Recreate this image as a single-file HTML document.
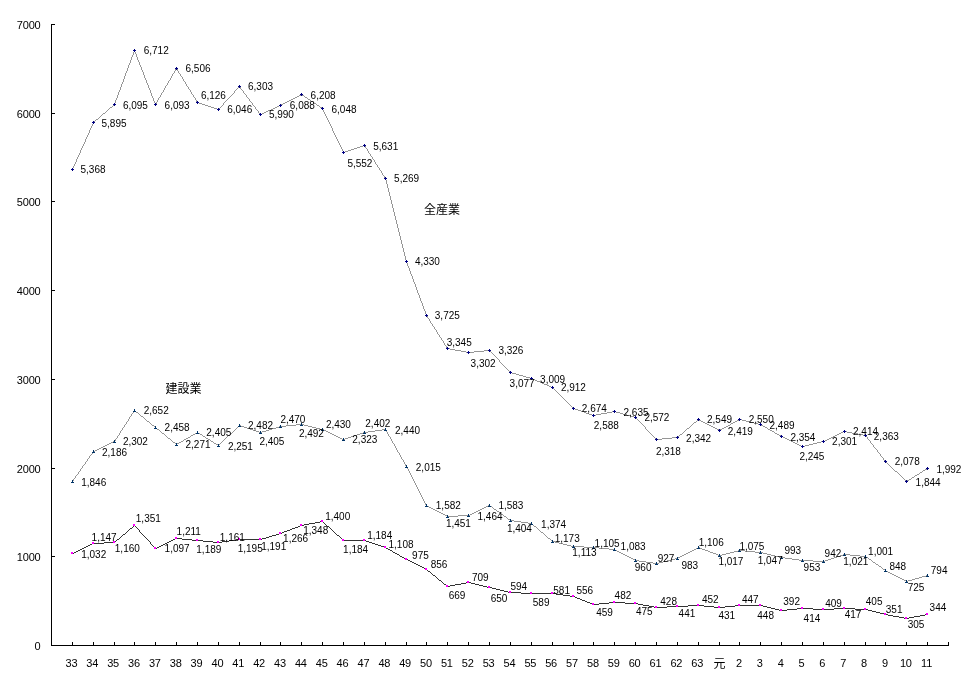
<!DOCTYPE html>
<html lang="ja"><head><meta charset="utf-8"><title>chart</title>
<style>
html,body{margin:0;padding:0;background:#fff;}
body{width:971px;height:687px;overflow:hidden;}
svg{display:block;}
text{font-family:"Liberation Sans","Noto Sans CJK JP",sans-serif;fill:#000;}
.ax{font-size:11px;letter-spacing:-0.2px;}
.dl{font-size:10px;}
.ttl{font-size:12px;}
</style></head><body>
<svg width="971" height="687" viewBox="0 0 971 687">
<rect width="971" height="687" fill="#fff"/>

<g stroke="#000" stroke-width="1" shape-rendering="crispEdges" fill="none">
<line x1="51.5" y1="24" x2="51.5" y2="646"/>
<line x1="51" y1="645.5" x2="949" y2="645.5"/>
<line x1="52" y1="645.5" x2="55" y2="645.5"/>
<line x1="52" y1="556.5" x2="55" y2="556.5"/>
<line x1="52" y1="468.5" x2="55" y2="468.5"/>
<line x1="52" y1="379.5" x2="55" y2="379.5"/>
<line x1="52" y1="290.5" x2="55" y2="290.5"/>
<line x1="52" y1="201.5" x2="55" y2="201.5"/>
<line x1="52" y1="113.5" x2="55" y2="113.5"/>
<line x1="52" y1="24.5" x2="55" y2="24.5"/>
<line x1="51.5" y1="642" x2="51.5" y2="645"/>
<line x1="72.5" y1="642" x2="72.5" y2="645"/>
<line x1="93.5" y1="642" x2="93.5" y2="645"/>
<line x1="114.5" y1="642" x2="114.5" y2="645"/>
<line x1="134.5" y1="642" x2="134.5" y2="645"/>
<line x1="155.5" y1="642" x2="155.5" y2="645"/>
<line x1="176.5" y1="642" x2="176.5" y2="645"/>
<line x1="197.5" y1="642" x2="197.5" y2="645"/>
<line x1="218.5" y1="642" x2="218.5" y2="645"/>
<line x1="239.5" y1="642" x2="239.5" y2="645"/>
<line x1="260.5" y1="642" x2="260.5" y2="645"/>
<line x1="280.5" y1="642" x2="280.5" y2="645"/>
<line x1="301.5" y1="642" x2="301.5" y2="645"/>
<line x1="322.5" y1="642" x2="322.5" y2="645"/>
<line x1="343.5" y1="642" x2="343.5" y2="645"/>
<line x1="364.5" y1="642" x2="364.5" y2="645"/>
<line x1="385.5" y1="642" x2="385.5" y2="645"/>
<line x1="406.5" y1="642" x2="406.5" y2="645"/>
<line x1="426.5" y1="642" x2="426.5" y2="645"/>
<line x1="447.5" y1="642" x2="447.5" y2="645"/>
<line x1="468.5" y1="642" x2="468.5" y2="645"/>
<line x1="489.5" y1="642" x2="489.5" y2="645"/>
<line x1="510.5" y1="642" x2="510.5" y2="645"/>
<line x1="531.5" y1="642" x2="531.5" y2="645"/>
<line x1="552.5" y1="642" x2="552.5" y2="645"/>
<line x1="573.5" y1="642" x2="573.5" y2="645"/>
<line x1="593.5" y1="642" x2="593.5" y2="645"/>
<line x1="614.5" y1="642" x2="614.5" y2="645"/>
<line x1="635.5" y1="642" x2="635.5" y2="645"/>
<line x1="656.5" y1="642" x2="656.5" y2="645"/>
<line x1="677.5" y1="642" x2="677.5" y2="645"/>
<line x1="698.5" y1="642" x2="698.5" y2="645"/>
<line x1="719.5" y1="642" x2="719.5" y2="645"/>
<line x1="739.5" y1="642" x2="739.5" y2="645"/>
<line x1="760.5" y1="642" x2="760.5" y2="645"/>
<line x1="781.5" y1="642" x2="781.5" y2="645"/>
<line x1="802.5" y1="642" x2="802.5" y2="645"/>
<line x1="823.5" y1="642" x2="823.5" y2="645"/>
<line x1="844.5" y1="642" x2="844.5" y2="645"/>
<line x1="865.5" y1="642" x2="865.5" y2="645"/>
<line x1="885.5" y1="642" x2="885.5" y2="645"/>
<line x1="906.5" y1="642" x2="906.5" y2="645"/>
<line x1="927.5" y1="642" x2="927.5" y2="645"/>
<line x1="948.5" y1="642" x2="948.5" y2="645"/>
</g>
<g class="ax" text-anchor="end">
<text x="40.5" y="650.0">0</text>
<text x="40.5" y="561.3">1000</text>
<text x="40.5" y="472.6">2000</text>
<text x="40.5" y="383.9">3000</text>
<text x="40.5" y="295.1">4000</text>
<text x="40.5" y="206.4">5000</text>
<text x="40.5" y="117.7">6000</text>
<text x="40.5" y="29.0">7000</text>
</g>
<g class="ax" text-anchor="middle">
<text x="71.4" y="667">33</text>
<text x="92.2" y="667">34</text>
<text x="113.1" y="667">35</text>
<text x="133.9" y="667">36</text>
<text x="154.8" y="667">37</text>
<text x="175.7" y="667">38</text>
<text x="196.5" y="667">39</text>
<text x="217.4" y="667">40</text>
<text x="238.2" y="667">41</text>
<text x="259.1" y="667">42</text>
<text x="280.0" y="667">43</text>
<text x="300.8" y="667">44</text>
<text x="321.7" y="667">45</text>
<text x="342.5" y="667">46</text>
<text x="363.4" y="667">47</text>
<text x="384.3" y="667">48</text>
<text x="405.1" y="667">49</text>
<text x="426.0" y="667">50</text>
<text x="446.8" y="667">51</text>
<text x="467.7" y="667">52</text>
<text x="488.6" y="667">53</text>
<text x="509.4" y="667">54</text>
<text x="530.3" y="667">55</text>
<text x="551.1" y="667">56</text>
<text x="572.0" y="667">57</text>
<text x="592.9" y="667">58</text>
<text x="613.7" y="667">59</text>
<text x="634.6" y="667">60</text>
<text x="655.4" y="667">61</text>
<text x="676.3" y="667">62</text>
<text x="697.2" y="667">63</text>
<text x="719.4" y="667.6" style="font-size:12px">元</text>
<text x="738.9" y="667">2</text>
<text x="759.7" y="667">3</text>
<text x="780.6" y="667">4</text>
<text x="801.5" y="667">5</text>
<text x="822.3" y="667">6</text>
<text x="843.2" y="667">7</text>
<text x="864.0" y="667">8</text>
<text x="884.9" y="667">9</text>
<text x="905.8" y="667">10</text>
<text x="926.6" y="667">11</text>
</g>
<path d="M72 168h1v2h-1zM73 166h1v2h-1zM74 164h1v2h-1zM75 162h1v2h-1zM76 159h1v3h-1zM77 157h1v2h-1zM78 155h1v2h-1zM79 153h1v2h-1zM80 150h1v3h-1zM81 148h1v2h-1zM82 146h1v2h-1zM83 144h1v2h-1zM84 142h1v2h-1zM85 139h1v3h-1zM86 137h1v2h-1zM87 135h1v2h-1zM88 133h1v2h-1zM89 130h1v3h-1zM90 128h1v2h-1zM91 126h1v2h-1zM92 124h1v2h-1zM93 122h1v2h-1zM94 121h1v1h-1zM95 120h1v1h-1zM96 119h2v1h-2zM98 118h1v1h-1zM99 117h1v1h-1zM100 116h1v1h-1zM101 115h1v1h-1zM102 114h1v1h-1zM103 113h2v1h-2zM105 112h1v1h-1zM106 111h1v1h-1zM107 110h1v1h-1zM108 109h1v1h-1zM109 108h1v1h-1zM110 107h2v1h-2zM112 106h1v1h-1zM113 105h1v1h-1zM114 103h1v2h-1zM115 100h1v3h-1zM116 98h1v2h-1zM117 95h1v3h-1zM118 92h1v3h-1zM119 90h1v2h-1zM120 87h1v3h-1zM121 84h1v3h-1zM122 82h1v2h-1zM123 79h1v3h-1zM124 76h1v3h-1zM125 73h1v3h-1zM126 71h1v2h-1zM127 68h1v3h-1zM128 65h1v3h-1zM129 63h1v2h-1zM130 60h1v3h-1zM131 57h1v3h-1zM132 55h1v2h-1zM133 52h1v3h-1zM134 50h1v2h-1zM135 52h1v2h-1zM136 54h1v3h-1zM137 57h1v3h-1zM138 60h1v2h-1zM139 62h1v3h-1zM140 65h1v2h-1zM141 67h1v3h-1zM142 70h1v2h-1zM143 72h1v3h-1zM144 75h1v3h-1zM145 78h1v2h-1zM146 80h1v3h-1zM147 83h1v2h-1zM148 85h1v3h-1zM149 88h1v2h-1zM150 90h1v3h-1zM151 93h1v3h-1zM152 96h1v2h-1zM153 98h1v3h-1zM154 101h1v2h-1zM155 103h2v1h-2zM155 104h1v1h-1zM156 102h1v1h-1zM157 100h1v2h-1zM158 98h1v2h-1zM159 97h1v1h-1zM160 95h1v2h-1zM161 93h1v2h-1zM162 92h1v1h-1zM163 90h1v2h-1zM164 88h1v2h-1zM165 86h1v2h-1zM166 85h1v1h-1zM167 83h1v2h-1zM168 81h1v2h-1zM169 80h1v1h-1zM170 78h1v2h-1zM171 76h1v2h-1zM172 74h1v2h-1zM173 73h1v1h-1zM174 71h1v2h-1zM175 69h1v2h-1zM176 68h1v1h-1zM177 69h1v2h-1zM178 71h1v2h-1zM179 73h1v1h-1zM180 74h1v2h-1zM181 76h1v1h-1zM182 77h1v2h-1zM183 79h1v2h-1zM184 81h1v1h-1zM185 82h1v2h-1zM186 84h1v2h-1zM187 86h1v1h-1zM188 87h1v2h-1zM189 89h1v1h-1zM190 90h1v2h-1zM191 92h1v2h-1zM192 94h1v1h-1zM193 95h1v2h-1zM194 97h1v1h-1zM195 98h1v2h-1zM196 100h1v2h-1zM197 102h2v1h-2zM199 103h3v1h-3zM202 104h3v1h-3zM205 105h3v1h-3zM208 106h3v1h-3zM211 107h3v1h-3zM214 108h3v1h-3zM217 109h2v1h-2zM219 108h1v1h-1zM220 107h1v1h-1zM221 106h1v1h-1zM222 105h1v1h-1zM223 103h1v2h-1zM224 102h1v1h-1zM225 101h1v1h-1zM226 100h1v1h-1zM227 99h1v1h-1zM228 98h1v1h-1zM229 97h1v1h-1zM230 96h1v1h-1zM231 95h1v1h-1zM232 94h1v1h-1zM233 93h1v1h-1zM234 91h1v2h-1zM235 90h1v1h-1zM236 89h1v1h-1zM237 88h1v1h-1zM238 87h1v1h-1zM239 86h1v1h-1zM240 87h1v2h-1zM241 89h1v1h-1zM242 90h1v1h-1zM243 91h1v2h-1zM244 93h1v1h-1zM245 94h1v1h-1zM246 95h1v2h-1zM247 97h1v1h-1zM248 98h1v1h-1zM249 99h1v2h-1zM250 101h1v1h-1zM251 102h1v1h-1zM252 103h1v2h-1zM253 105h1v1h-1zM254 106h1v1h-1zM255 107h1v2h-1zM256 109h1v1h-1zM257 110h1v1h-1zM258 111h1v2h-1zM259 113h1v1h-1zM260 114h2v1h-2zM262 113h2v1h-2zM264 112h2v1h-2zM266 111h2v1h-2zM268 110h3v1h-3zM271 109h2v1h-2zM273 108h2v1h-2zM275 107h2v1h-2zM277 106h2v1h-2zM279 105h2v1h-2zM281 104h2v1h-2zM283 103h2v1h-2zM285 102h2v1h-2zM287 101h2v1h-2zM289 100h2v1h-2zM291 99h2v1h-2zM293 98h2v1h-2zM295 97h2v1h-2zM297 96h2v1h-2zM299 95h2v1h-2zM301 94h1v1h-1zM302 95h2v1h-2zM304 96h1v1h-1zM305 97h2v1h-2zM307 98h1v1h-1zM308 99h2v1h-2zM310 100h1v1h-1zM311 101h2v1h-2zM313 102h1v1h-1zM314 103h2v1h-2zM316 104h1v1h-1zM317 105h2v1h-2zM319 106h1v1h-1zM320 107h2v1h-2zM322 108h1v2h-1zM323 110h1v2h-1zM324 112h1v2h-1zM325 114h1v2h-1zM326 116h1v2h-1zM327 118h1v2h-1zM328 120h1v2h-1zM329 122h1v2h-1zM330 124h1v2h-1zM331 126h1v2h-1zM332 128h1v3h-1zM333 131h1v2h-1zM334 133h1v2h-1zM335 135h1v2h-1zM336 137h1v2h-1zM337 139h1v2h-1zM338 141h1v2h-1zM339 143h1v2h-1zM340 145h1v2h-1zM341 147h1v2h-1zM342 149h1v2h-1zM343 151h1v1h-1zM343 152h2v1h-2zM345 151h3v1h-3zM348 150h3v1h-3zM351 149h3v1h-3zM354 148h3v1h-3zM357 147h3v1h-3zM360 146h3v1h-3zM363 145h2v1h-2zM365 146h1v2h-1zM366 148h1v1h-1zM367 149h1v2h-1zM368 151h1v2h-1zM369 153h1v1h-1zM370 154h1v2h-1zM371 156h1v1h-1zM372 157h1v2h-1zM373 159h1v1h-1zM374 160h1v2h-1zM375 162h1v2h-1zM376 164h1v1h-1zM377 165h1v2h-1zM378 167h1v1h-1zM379 168h1v2h-1zM380 170h1v1h-1zM381 171h1v2h-1zM382 173h1v2h-1zM383 175h1v1h-1zM384 176h1v2h-1zM385 178h1v2h-1zM386 180h1v4h-1zM387 184h1v4h-1zM388 188h1v4h-1zM389 192h1v4h-1zM390 196h1v4h-1zM391 200h1v4h-1zM392 204h1v4h-1zM393 208h1v4h-1zM394 212h1v4h-1zM395 216h1v4h-1zM396 220h1v4h-1zM397 224h1v4h-1zM398 228h1v4h-1zM399 232h1v4h-1zM400 236h1v4h-1zM401 240h1v4h-1zM402 244h1v4h-1zM403 248h1v4h-1zM404 252h1v4h-1zM405 256h1v4h-1zM406 260h1v3h-1zM407 263h1v3h-1zM408 266h1v2h-1zM409 268h1v3h-1zM410 271h1v3h-1zM411 274h1v2h-1zM412 276h1v3h-1zM413 279h1v3h-1zM414 282h1v2h-1zM415 284h1v3h-1zM416 287h1v3h-1zM417 290h1v3h-1zM418 293h1v2h-1zM419 295h1v3h-1zM420 298h1v3h-1zM421 301h1v2h-1zM422 303h1v3h-1zM423 306h1v3h-1zM424 309h1v2h-1zM425 311h1v3h-1zM426 314h1v2h-1zM427 316h1v2h-1zM428 318h1v1h-1zM429 319h1v2h-1zM430 321h1v2h-1zM431 323h1v1h-1zM432 324h1v2h-1zM433 326h1v1h-1zM434 327h1v2h-1zM435 329h1v1h-1zM436 330h1v2h-1zM437 332h1v2h-1zM438 334h1v1h-1zM439 335h1v2h-1zM440 337h1v1h-1zM441 338h1v2h-1zM442 340h1v1h-1zM443 341h1v2h-1zM444 343h1v2h-1zM445 345h1v1h-1zM446 346h1v2h-1zM447 348h3v1h-3zM450 349h5v1h-5zM455 350h6v1h-6zM461 351h5v1h-5zM466 352h8v1h-8zM474 351h10v1h-10zM484 350h6v1h-6zM490 351h1v1h-1zM491 352h1v1h-1zM492 353h1v1h-1zM493 354h1v1h-1zM494 355h1v1h-1zM495 356h1v1h-1zM496 357h1v1h-1zM497 358h1v1h-1zM498 359h1v1h-1zM499 360h1v2h-1zM500 362h1v1h-1zM501 363h1v1h-1zM502 364h1v1h-1zM503 365h1v1h-1zM504 366h1v1h-1zM505 367h1v1h-1zM506 368h1v1h-1zM507 369h1v1h-1zM508 370h1v1h-1zM509 371h1v1h-1zM510 372h2v1h-2zM512 373h4v1h-4zM516 374h3v1h-3zM519 375h4v1h-4zM523 376h3v1h-3zM526 377h4v1h-4zM530 378h3v1h-3zM533 379h2v1h-2zM535 380h2v1h-2zM537 381h3v1h-3zM540 382h2v1h-2zM542 383h2v1h-2zM544 384h3v1h-3zM547 385h2v1h-2zM549 386h2v1h-2zM551 387h2v1h-2zM553 388h1v1h-1zM554 389h1v1h-1zM555 390h1v1h-1zM556 391h1v1h-1zM557 392h1v1h-1zM558 393h1v1h-1zM559 394h1v1h-1zM560 395h1v1h-1zM561 396h1v1h-1zM562 397h1v1h-1zM563 398h1v1h-1zM564 399h1v1h-1zM565 400h1v1h-1zM566 401h1v1h-1zM567 402h1v1h-1zM568 403h1v1h-1zM569 404h1v1h-1zM570 405h1v1h-1zM571 406h1v1h-1zM572 407h1v1h-1zM573 408h2v1h-2zM575 409h3v1h-3zM578 410h3v1h-3zM581 411h3v1h-3zM584 412h2v1h-2zM586 413h3v1h-3zM589 414h3v1h-3zM592 415h4v1h-4zM596 414h5v1h-5zM601 413h6v1h-6zM607 412h5v1h-5zM612 411h4v1h-4zM616 412h4v1h-4zM620 413h3v1h-3zM623 414h4v1h-4zM627 415h3v1h-3zM630 416h4v1h-4zM634 417h2v1h-2zM636 418h1v1h-1zM637 419h1v1h-1zM638 420h1v1h-1zM639 421h1v1h-1zM640 422h1v1h-1zM641 423h1v1h-1zM642 424h1v1h-1zM643 425h1v1h-1zM644 426h1v1h-1zM645 427h1v2h-1zM646 429h1v1h-1zM647 430h1v1h-1zM648 431h1v1h-1zM649 432h1v1h-1zM650 433h1v1h-1zM651 434h1v1h-1zM652 435h1v1h-1zM653 436h1v1h-1zM654 437h1v1h-1zM655 438h1v1h-1zM656 439h6v1h-6zM662 438h10v1h-10zM672 437h6v1h-6zM678 436h1v1h-1zM679 435h1v1h-1zM680 434h2v1h-2zM682 433h1v1h-1zM683 432h1v1h-1zM684 431h1v1h-1zM685 430h1v1h-1zM686 429h1v1h-1zM687 428h2v1h-2zM689 427h1v1h-1zM690 426h1v1h-1zM691 425h1v1h-1zM692 424h1v1h-1zM693 423h1v1h-1zM694 422h2v1h-2zM696 421h1v1h-1zM697 420h1v1h-1zM698 419h1v1h-1zM699 420h2v1h-2zM701 421h2v1h-2zM703 422h2v1h-2zM705 423h2v1h-2zM707 424h2v1h-2zM709 425h2v1h-2zM711 426h2v1h-2zM713 427h2v1h-2zM715 428h2v1h-2zM717 429h2v1h-2zM719 430h1v1h-1zM720 429h2v1h-2zM722 428h2v1h-2zM724 427h2v1h-2zM726 426h2v1h-2zM728 425h2v1h-2zM730 424h1v1h-1zM731 423h2v1h-2zM733 422h2v1h-2zM735 421h2v1h-2zM737 420h2v1h-2zM739 419h3v1h-3zM742 420h4v1h-4zM746 421h4v1h-4zM750 422h4v1h-4zM754 423h4v1h-4zM758 424h3v1h-3zM761 425h2v1h-2zM763 426h2v1h-2zM765 427h2v1h-2zM767 428h1v1h-1zM768 429h2v1h-2zM770 430h2v1h-2zM772 431h2v1h-2zM774 432h1v1h-1zM775 433h2v1h-2zM777 434h2v1h-2zM779 435h2v1h-2zM781 436h2v1h-2zM783 437h2v1h-2zM785 438h2v1h-2zM787 439h2v1h-2zM789 440h2v1h-2zM791 441h2v1h-2zM793 442h2v1h-2zM795 443h2v1h-2zM797 444h2v1h-2zM799 445h2v1h-2zM801 446h4v1h-4zM805 445h4v1h-4zM809 444h4v1h-4zM813 443h4v1h-4zM817 442h4v1h-4zM821 441h4v1h-4zM825 440h2v1h-2zM827 439h2v1h-2zM829 438h2v1h-2zM831 437h2v1h-2zM833 436h2v1h-2zM835 435h2v1h-2zM837 434h2v1h-2zM839 433h2v1h-2zM841 432h2v1h-2zM843 431h4v1h-4zM847 432h5v1h-5zM852 433h6v1h-6zM858 434h5v1h-5zM863 435h3v1h-3zM866 436h1v1h-1zM867 437h1v2h-1zM868 439h1v1h-1zM869 440h1v1h-1zM870 441h1v2h-1zM871 443h1v1h-1zM872 444h1v1h-1zM873 445h1v2h-1zM874 447h1v1h-1zM875 448h1v1h-1zM876 449h1v1h-1zM877 450h1v2h-1zM878 452h1v1h-1zM879 453h1v1h-1zM880 454h1v2h-1zM881 456h1v1h-1zM882 457h1v1h-1zM883 458h1v2h-1zM884 460h1v1h-1zM885 461h1v1h-1zM886 462h1v1h-1zM887 463h1v1h-1zM888 464h1v1h-1zM889 465h1v1h-1zM890 466h1v1h-1zM891 467h1v1h-1zM892 468h1v1h-1zM893 469h1v1h-1zM894 470h1v1h-1zM895 471h2v1h-2zM897 472h1v1h-1zM898 473h1v1h-1zM899 474h1v1h-1zM900 475h1v1h-1zM901 476h1v1h-1zM902 477h1v1h-1zM903 478h1v1h-1zM904 479h1v1h-1zM905 480h1v1h-1zM906 481h1v1h-1zM907 480h2v1h-2zM909 479h2v1h-2zM911 478h1v1h-1zM912 477h2v1h-2zM914 476h1v1h-1zM915 475h2v1h-2zM917 474h2v1h-2zM919 473h1v1h-1zM920 472h2v1h-2zM922 471h1v1h-1zM923 470h2v1h-2zM925 469h2v1h-2zM927 468h1v1h-1z" fill="#969696" shape-rendering="crispEdges"/>
<path d="M72 481h1v1h-1zM73 479h1v2h-1zM74 478h1v1h-1zM75 476h1v2h-1zM76 475h1v1h-1zM77 474h1v1h-1zM78 472h1v2h-1zM79 471h1v1h-1zM80 469h1v2h-1zM81 468h1v1h-1zM82 466h1v2h-1zM83 465h1v1h-1zM84 464h1v1h-1zM85 462h1v2h-1zM86 461h1v1h-1zM87 459h1v2h-1zM88 458h1v1h-1zM89 456h1v2h-1zM90 455h1v1h-1zM91 454h1v1h-1zM92 452h1v2h-1zM93 451h2v1h-2zM95 450h2v1h-2zM97 449h2v1h-2zM99 448h2v1h-2zM101 447h2v1h-2zM103 446h2v1h-2zM105 445h2v1h-2zM107 444h2v1h-2zM109 443h2v1h-2zM111 442h2v1h-2zM113 441h2v1h-2zM115 439h1v2h-1zM116 438h1v1h-1zM117 436h1v2h-1zM118 435h1v1h-1zM119 433h1v2h-1zM120 431h1v2h-1zM121 430h1v1h-1zM122 428h1v2h-1zM123 427h1v1h-1zM124 425h1v2h-1zM125 424h1v1h-1zM126 422h1v2h-1zM127 421h1v1h-1zM128 419h1v2h-1zM129 417h1v2h-1zM130 416h1v1h-1zM131 414h1v2h-1zM132 413h1v1h-1zM133 411h1v2h-1zM134 410h1v1h-1zM135 411h1v1h-1zM136 412h2v1h-2zM138 413h1v1h-1zM139 414h1v1h-1zM140 415h1v1h-1zM141 416h2v1h-2zM143 417h1v1h-1zM144 418h1v1h-1zM145 419h1v1h-1zM146 420h1v1h-1zM147 421h2v1h-2zM149 422h1v1h-1zM150 423h1v1h-1zM151 424h1v1h-1zM152 425h2v1h-2zM154 426h1v1h-1zM155 427h1v1h-1zM156 428h1v1h-1zM157 429h2v1h-2zM159 430h1v1h-1zM160 431h1v1h-1zM161 432h1v1h-1zM162 433h2v1h-2zM164 434h1v1h-1zM165 435h1v1h-1zM166 436h1v1h-1zM167 437h1v1h-1zM168 438h2v1h-2zM170 439h1v1h-1zM171 440h1v1h-1zM172 441h1v1h-1zM173 442h2v1h-2zM175 443h1v1h-1zM176 444h1v1h-1zM177 443h2v1h-2zM179 442h2v1h-2zM181 441h2v1h-2zM183 440h1v1h-1zM184 439h2v1h-2zM186 438h2v1h-2zM188 437h2v1h-2zM190 436h1v1h-1zM191 435h2v1h-2zM193 434h2v1h-2zM195 433h2v1h-2zM197 432h1v1h-1zM198 433h2v1h-2zM200 434h2v1h-2zM202 435h1v1h-1zM203 436h2v1h-2zM205 437h1v1h-1zM206 438h2v1h-2zM208 439h2v1h-2zM210 440h1v1h-1zM211 441h2v1h-2zM213 442h1v1h-1zM214 443h2v1h-2zM216 444h2v1h-2zM218 445h1v1h-1zM219 444h1v1h-1zM220 443h1v1h-1zM221 442h1v1h-1zM222 441h1v1h-1zM223 440h1v1h-1zM224 439h1v1h-1zM225 438h1v1h-1zM226 437h1v1h-1zM227 436h1v1h-1zM228 435h2v1h-2zM230 434h1v1h-1zM231 433h1v1h-1zM232 432h1v1h-1zM233 431h1v1h-1zM234 430h1v1h-1zM235 429h1v1h-1zM236 428h1v1h-1zM237 427h1v1h-1zM238 426h1v1h-1zM239 425h2v1h-2zM241 426h3v1h-3zM244 427h3v1h-3zM247 428h3v1h-3zM250 429h3v1h-3zM253 430h3v1h-3zM256 431h3v1h-3zM259 432h3v1h-3zM262 431h4v1h-4zM266 430h3v1h-3zM269 429h3v1h-3zM272 428h4v1h-4zM276 427h3v1h-3zM279 426h7v1h-7zM286 425h10v1h-10zM296 424h8v1h-8zM304 425h4v1h-4zM308 426h4v1h-4zM312 427h4v1h-4zM316 428h4v1h-4zM320 429h4v1h-4zM324 430h2v1h-2zM326 431h2v1h-2zM328 432h2v1h-2zM330 433h2v1h-2zM332 434h2v1h-2zM334 435h2v1h-2zM336 436h2v1h-2zM338 437h2v1h-2zM340 438h2v1h-2zM342 439h3v1h-3zM345 438h3v1h-3zM348 437h3v1h-3zM351 436h3v1h-3zM354 435h3v1h-3zM357 434h3v1h-3zM360 433h3v1h-3zM363 432h5v1h-5zM368 431h7v1h-7zM375 430h7v1h-7zM382 429h4v1h-4zM386 430h1v2h-1zM387 432h1v2h-1zM388 434h1v2h-1zM389 436h1v1h-1zM390 437h1v2h-1zM391 439h1v2h-1zM392 441h1v2h-1zM393 443h1v1h-1zM394 444h1v2h-1zM395 446h1v2h-1zM396 448h1v2h-1zM397 450h1v2h-1zM398 452h1v1h-1zM399 453h1v2h-1zM400 455h1v2h-1zM401 457h1v2h-1zM402 459h1v1h-1zM403 460h1v2h-1zM404 462h1v2h-1zM405 464h1v2h-1zM406 466h1v1h-1zM407 467h1v2h-1zM408 469h1v2h-1zM409 471h1v2h-1zM410 473h1v2h-1zM411 475h1v2h-1zM412 477h1v2h-1zM413 479h1v2h-1zM414 481h1v2h-1zM415 483h1v2h-1zM416 485h1v2h-1zM417 487h1v2h-1zM418 489h1v2h-1zM419 491h1v2h-1zM420 493h1v2h-1zM421 495h1v2h-1zM422 497h1v2h-1zM423 499h1v2h-1zM424 501h1v2h-1zM425 503h1v2h-1zM426 505h1v1h-1zM427 506h2v1h-2zM429 507h2v1h-2zM431 508h2v1h-2zM433 509h2v1h-2zM435 510h2v1h-2zM437 511h2v1h-2zM439 512h2v1h-2zM441 513h2v1h-2zM443 514h2v1h-2zM445 515h2v1h-2zM447 516h11v1h-11zM458 515h12v1h-12zM470 514h2v1h-2zM472 513h2v1h-2zM474 512h2v1h-2zM476 511h2v1h-2zM478 510h2v1h-2zM480 509h2v1h-2zM482 508h2v1h-2zM484 507h2v1h-2zM486 506h2v1h-2zM488 505h2v1h-2zM490 506h2v1h-2zM492 507h1v1h-1zM493 508h1v1h-1zM494 509h2v1h-2zM496 510h1v1h-1zM497 511h2v1h-2zM499 512h1v1h-1zM500 513h1v1h-1zM501 514h2v1h-2zM503 515h1v1h-1zM504 516h2v1h-2zM506 517h1v1h-1zM507 518h1v1h-1zM508 519h2v1h-2zM510 520h4v1h-4zM514 521h7v1h-7zM521 522h7v1h-7zM528 523h4v1h-4zM532 524h1v1h-1zM533 525h1v1h-1zM534 526h2v1h-2zM536 527h1v1h-1zM537 528h1v1h-1zM538 529h1v1h-1zM539 530h1v1h-1zM540 531h1v1h-1zM541 532h2v1h-2zM543 533h1v1h-1zM544 534h1v1h-1zM545 535h1v1h-1zM546 536h1v1h-1zM547 537h1v1h-1zM548 538h2v1h-2zM550 539h1v1h-1zM551 540h1v1h-1zM552 541h3v1h-3zM555 542h4v1h-4zM559 543h4v1h-4zM563 544h4v1h-4zM567 545h4v1h-4zM571 546h13v1h-13zM584 547h15v1h-15zM599 548h10v1h-10zM609 549h6v1h-6zM615 550h2v1h-2zM617 551h2v1h-2zM619 552h2v1h-2zM621 553h2v1h-2zM623 554h2v1h-2zM625 555h2v1h-2zM627 556h2v1h-2zM629 557h2v1h-2zM631 558h2v1h-2zM633 559h2v1h-2zM635 560h4v1h-4zM639 561h7v1h-7zM646 562h7v1h-7zM653 563h6v1h-6zM659 562h4v1h-4zM663 561h4v1h-4zM667 560h4v1h-4zM671 559h4v1h-4zM675 558h3v1h-3zM678 557h2v1h-2zM680 556h2v1h-2zM682 555h2v1h-2zM684 554h2v1h-2zM686 553h2v1h-2zM688 552h2v1h-2zM690 551h2v1h-2zM692 550h2v1h-2zM694 549h2v1h-2zM696 548h2v1h-2zM698 547h2v1h-2zM700 548h2v1h-2zM702 549h3v1h-3zM705 550h3v1h-3zM708 551h2v1h-2zM710 552h3v1h-3zM713 553h3v1h-3zM716 554h2v1h-2zM718 555h4v1h-4zM722 554h4v1h-4zM726 553h4v1h-4zM730 552h4v1h-4zM734 551h4v1h-4zM738 550h7v1h-7zM745 551h10v1h-10zM755 552h8v1h-8zM763 553h4v1h-4zM767 554h4v1h-4zM771 555h4v1h-4zM775 556h4v1h-4zM779 557h6v1h-6zM785 558h7v1h-7zM792 559h7v1h-7zM799 560h14v1h-14zM813 561h12v1h-12zM825 560h3v1h-3zM828 559h3v1h-3zM831 558h3v1h-3zM834 557h3v1h-3zM837 556h3v1h-3zM840 555h3v1h-3zM843 554h7v1h-7zM850 555h10v1h-10zM860 556h6v1h-6zM866 557h2v1h-2zM868 558h1v1h-1zM869 559h2v1h-2zM871 560h1v1h-1zM872 561h1v1h-1zM873 562h2v1h-2zM875 563h1v1h-1zM876 564h2v1h-2zM878 565h1v1h-1zM879 566h2v1h-2zM881 567h1v1h-1zM882 568h1v1h-1zM883 569h2v1h-2zM885 570h1v1h-1zM886 571h2v1h-2zM888 572h2v1h-2zM890 573h2v1h-2zM892 574h2v1h-2zM894 575h2v1h-2zM896 576h2v1h-2zM898 577h2v1h-2zM900 578h2v1h-2zM902 579h2v1h-2zM904 580h2v1h-2zM906 581h2v1h-2zM908 580h4v1h-4zM912 579h3v1h-3zM915 578h4v1h-4zM919 577h3v1h-3zM922 576h4v1h-4zM926 575h2v1h-2z" fill="#969696" shape-rendering="crispEdges"/>
<path d="M72 553h2v1h-2zM74 552h2v1h-2zM76 551h2v1h-2zM78 550h2v1h-2zM80 549h2v1h-2zM82 548h2v1h-2zM84 547h2v1h-2zM86 546h2v1h-2zM88 545h2v1h-2zM90 544h2v1h-2zM92 543h12v1h-12zM104 542h11v1h-11zM115 541h1v1h-1zM116 540h1v1h-1zM117 539h2v1h-2zM119 538h1v1h-1zM120 537h1v1h-1zM121 536h1v1h-1zM122 535h1v1h-1zM123 534h2v1h-2zM125 533h1v1h-1zM126 532h1v1h-1zM127 531h1v1h-1zM128 530h1v1h-1zM129 529h1v1h-1zM130 528h2v1h-2zM132 527h1v1h-1zM133 526h1v1h-1zM134 525h1v1h-1zM135 526h1v1h-1zM136 527h1v1h-1zM137 528h1v1h-1zM138 529h1v1h-1zM139 530h1v2h-1zM140 532h1v1h-1zM141 533h1v1h-1zM142 534h1v1h-1zM143 535h1v1h-1zM144 536h1v1h-1zM145 537h1v1h-1zM146 538h1v1h-1zM147 539h1v1h-1zM148 540h1v1h-1zM149 541h1v1h-1zM150 542h1v2h-1zM151 544h1v1h-1zM152 545h1v1h-1zM153 546h1v1h-1zM154 547h1v1h-1zM155 548h2v1h-2zM157 547h2v1h-2zM159 546h2v1h-2zM161 545h2v1h-2zM163 544h2v1h-2zM165 543h2v1h-2zM167 542h2v1h-2zM169 541h2v1h-2zM171 540h2v1h-2zM173 539h2v1h-2zM175 538h7v1h-7zM182 539h10v1h-10zM192 540h11v1h-11zM203 541h10v1h-10zM213 542h9v1h-9zM222 541h7v1h-7zM229 540h7v1h-7zM236 539h26v1h-26zM262 538h4v1h-4zM266 537h3v1h-3zM269 536h3v1h-3zM272 535h4v1h-4zM276 534h3v1h-3zM279 533h3v1h-3zM282 532h2v1h-2zM284 531h3v1h-3zM287 530h3v1h-3zM290 529h2v1h-2zM292 528h3v1h-3zM295 527h3v1h-3zM298 526h2v1h-2zM300 525h4v1h-4zM304 524h5v1h-5zM309 523h6v1h-6zM315 522h5v1h-5zM320 521h3v1h-3zM323 522h1v1h-1zM324 523h1v1h-1zM325 524h1v1h-1zM326 525h1v1h-1zM327 526h2v1h-2zM329 527h1v1h-1zM330 528h1v1h-1zM331 529h1v1h-1zM332 530h1v1h-1zM333 531h1v1h-1zM334 532h1v1h-1zM335 533h1v1h-1zM336 534h1v1h-1zM337 535h2v1h-2zM339 536h1v1h-1zM340 537h1v1h-1zM341 538h1v1h-1zM342 539h1v1h-1zM343 540h23v1h-23zM366 541h3v1h-3zM369 542h3v1h-3zM372 543h3v1h-3zM375 544h3v1h-3zM378 545h3v1h-3zM381 546h3v1h-3zM384 547h2v1h-2zM386 548h2v1h-2zM388 549h2v1h-2zM390 550h2v1h-2zM392 551h1v1h-1zM393 552h2v1h-2zM395 553h2v1h-2zM397 554h2v1h-2zM399 555h1v1h-1zM400 556h2v1h-2zM402 557h2v1h-2zM404 558h2v1h-2zM406 559h2v1h-2zM408 560h2v1h-2zM410 561h2v1h-2zM412 562h2v1h-2zM414 563h2v1h-2zM416 564h2v1h-2zM418 565h2v1h-2zM420 566h2v1h-2zM422 567h2v1h-2zM424 568h2v1h-2zM426 569h1v1h-1zM427 570h1v1h-1zM428 571h2v1h-2zM430 572h1v1h-1zM431 573h1v1h-1zM432 574h1v1h-1zM433 575h2v1h-2zM435 576h1v1h-1zM436 577h1v1h-1zM437 578h1v1h-1zM438 579h1v1h-1zM439 580h2v1h-2zM441 581h1v1h-1zM442 582h1v1h-1zM443 583h1v1h-1zM444 584h2v1h-2zM446 585h1v1h-1zM447 586h3v1h-3zM450 585h5v1h-5zM455 584h6v1h-6zM461 583h5v1h-5zM466 582h5v1h-5zM471 583h4v1h-4zM475 584h4v1h-4zM479 585h4v1h-4zM483 586h4v1h-4zM487 587h5v1h-5zM492 588h4v1h-4zM496 589h4v1h-4zM500 590h4v1h-4zM504 591h4v1h-4zM508 592h13v1h-13zM521 593h35v1h-35zM556 594h7v1h-7zM563 595h7v1h-7zM570 596h5v1h-5zM575 597h2v1h-2zM577 598h3v1h-3zM580 599h2v1h-2zM582 600h3v1h-3zM585 601h2v1h-2zM587 602h3v1h-3zM590 603h2v1h-2zM592 604h7v1h-7zM599 603h10v1h-10zM609 602h16v1h-16zM625 603h13v1h-13zM638 604h5v1h-5zM643 605h6v1h-6zM649 606h5v1h-5zM654 607h13v1h-13zM667 606h21v1h-21zM688 605h16v1h-16zM704 606h10v1h-10zM714 607h11v1h-11zM725 606h10v1h-10zM735 605h28v1h-28zM763 606h4v1h-4zM767 607h4v1h-4zM771 608h4v1h-4zM775 609h4v1h-4zM779 610h8v1h-8zM787 609h10v1h-10zM797 608h16v1h-16zM813 609h21v1h-21zM834 608h21v1h-21zM855 609h13v1h-13zM868 610h4v1h-4zM872 611h4v1h-4zM876 612h4v1h-4zM880 613h4v1h-4zM884 614h4v1h-4zM888 615h5v1h-5zM893 616h6v1h-6zM899 617h5v1h-5zM904 618h5v1h-5zM909 617h5v1h-5zM914 616h6v1h-6zM920 615h5v1h-5zM925 614h3v1h-3z" fill="#333333" shape-rendering="crispEdges"/>
<g fill="#000080" shape-rendering="crispEdges">
<path d="M72 168h1v1h1v1h-1v1h-1v-1h-1v-1h1z"/>
<path d="M93 121h1v1h1v1h-1v1h-1v-1h-1v-1h1z"/>
<path d="M114 103h1v1h1v1h-1v1h-1v-1h-1v-1h1z"/>
<path d="M134 49h1v1h1v1h-1v1h-1v-1h-1v-1h1z"/>
<path d="M155 103h1v1h1v1h-1v1h-1v-1h-1v-1h1z"/>
<path d="M176 67h1v1h1v1h-1v1h-1v-1h-1v-1h1z"/>
<path d="M197 101h1v1h1v1h-1v1h-1v-1h-1v-1h1z"/>
<path d="M218 108h1v1h1v1h-1v1h-1v-1h-1v-1h1z"/>
<path d="M239 85h1v1h1v1h-1v1h-1v-1h-1v-1h1z"/>
<path d="M260 113h1v1h1v1h-1v1h-1v-1h-1v-1h1z"/>
<path d="M280 104h1v1h1v1h-1v1h-1v-1h-1v-1h1z"/>
<path d="M301 93h1v1h1v1h-1v1h-1v-1h-1v-1h1z"/>
<path d="M322 107h1v1h1v1h-1v1h-1v-1h-1v-1h1z"/>
<path d="M343 151h1v1h1v1h-1v1h-1v-1h-1v-1h1z"/>
<path d="M364 144h1v1h1v1h-1v1h-1v-1h-1v-1h1z"/>
<path d="M385 177h1v1h1v1h-1v1h-1v-1h-1v-1h1z"/>
<path d="M406 260h1v1h1v1h-1v1h-1v-1h-1v-1h1z"/>
<path d="M426 314h1v1h1v1h-1v1h-1v-1h-1v-1h1z"/>
<path d="M447 347h1v1h1v1h-1v1h-1v-1h-1v-1h1z"/>
<path d="M468 351h1v1h1v1h-1v1h-1v-1h-1v-1h1z"/>
<path d="M489 349h1v1h1v1h-1v1h-1v-1h-1v-1h1z"/>
<path d="M510 371h1v1h1v1h-1v1h-1v-1h-1v-1h1z"/>
<path d="M531 377h1v1h1v1h-1v1h-1v-1h-1v-1h1z"/>
<path d="M552 386h1v1h1v1h-1v1h-1v-1h-1v-1h1z"/>
<path d="M573 407h1v1h1v1h-1v1h-1v-1h-1v-1h1z"/>
<path d="M593 414h1v1h1v1h-1v1h-1v-1h-1v-1h1z"/>
<path d="M614 410h1v1h1v1h-1v1h-1v-1h-1v-1h1z"/>
<path d="M635 416h1v1h1v1h-1v1h-1v-1h-1v-1h1z"/>
<path d="M656 438h1v1h1v1h-1v1h-1v-1h-1v-1h1z"/>
<path d="M677 436h1v1h1v1h-1v1h-1v-1h-1v-1h1z"/>
<path d="M698 418h1v1h1v1h-1v1h-1v-1h-1v-1h1z"/>
<path d="M719 429h1v1h1v1h-1v1h-1v-1h-1v-1h1z"/>
<path d="M739 418h1v1h1v1h-1v1h-1v-1h-1v-1h1z"/>
<path d="M760 423h1v1h1v1h-1v1h-1v-1h-1v-1h1z"/>
<path d="M781 435h1v1h1v1h-1v1h-1v-1h-1v-1h1z"/>
<path d="M802 445h1v1h1v1h-1v1h-1v-1h-1v-1h1z"/>
<path d="M823 440h1v1h1v1h-1v1h-1v-1h-1v-1h1z"/>
<path d="M844 430h1v1h1v1h-1v1h-1v-1h-1v-1h1z"/>
<path d="M865 434h1v1h1v1h-1v1h-1v-1h-1v-1h1z"/>
<path d="M885 460h1v1h1v1h-1v1h-1v-1h-1v-1h1z"/>
<path d="M906 480h1v1h1v1h-1v1h-1v-1h-1v-1h1z"/>
<path d="M927 467h1v1h1v1h-1v1h-1v-1h-1v-1h1z"/>
</g>
<g fill="#003366" shape-rendering="crispEdges">
<path d="M72 480h1v2h1v1h-3v-1h1z"/>
<path d="M93 450h1v2h1v1h-3v-1h1z"/>
<path d="M114 440h1v2h1v1h-3v-1h1z"/>
<path d="M134 409h1v2h1v1h-3v-1h1z"/>
<path d="M155 426h1v2h1v1h-3v-1h1z"/>
<path d="M176 443h1v2h1v1h-3v-1h1z"/>
<path d="M197 431h1v2h1v1h-3v-1h1z"/>
<path d="M218 444h1v2h1v1h-3v-1h1z"/>
<path d="M239 424h1v2h1v1h-3v-1h1z"/>
<path d="M260 431h1v2h1v1h-3v-1h1z"/>
<path d="M280 425h1v2h1v1h-3v-1h1z"/>
<path d="M301 423h1v2h1v1h-3v-1h1z"/>
<path d="M322 428h1v2h1v1h-3v-1h1z"/>
<path d="M343 438h1v2h1v1h-3v-1h1z"/>
<path d="M364 431h1v2h1v1h-3v-1h1z"/>
<path d="M385 428h1v2h1v1h-3v-1h1z"/>
<path d="M406 465h1v2h1v1h-3v-1h1z"/>
<path d="M426 504h1v2h1v1h-3v-1h1z"/>
<path d="M447 515h1v2h1v1h-3v-1h1z"/>
<path d="M468 514h1v2h1v1h-3v-1h1z"/>
<path d="M489 504h1v2h1v1h-3v-1h1z"/>
<path d="M510 519h1v2h1v1h-3v-1h1z"/>
<path d="M531 522h1v2h1v1h-3v-1h1z"/>
<path d="M552 540h1v2h1v1h-3v-1h1z"/>
<path d="M573 545h1v2h1v1h-3v-1h1z"/>
<path d="M593 546h1v2h1v1h-3v-1h1z"/>
<path d="M614 548h1v2h1v1h-3v-1h1z"/>
<path d="M635 559h1v2h1v1h-3v-1h1z"/>
<path d="M656 562h1v2h1v1h-3v-1h1z"/>
<path d="M677 557h1v2h1v1h-3v-1h1z"/>
<path d="M698 546h1v2h1v1h-3v-1h1z"/>
<path d="M719 554h1v2h1v1h-3v-1h1z"/>
<path d="M739 549h1v2h1v1h-3v-1h1z"/>
<path d="M760 551h1v2h1v1h-3v-1h1z"/>
<path d="M781 556h1v2h1v1h-3v-1h1z"/>
<path d="M802 559h1v2h1v1h-3v-1h1z"/>
<path d="M823 560h1v2h1v1h-3v-1h1z"/>
<path d="M844 553h1v2h1v1h-3v-1h1z"/>
<path d="M865 555h1v2h1v1h-3v-1h1z"/>
<path d="M885 569h1v2h1v1h-3v-1h1z"/>
<path d="M906 580h1v2h1v1h-3v-1h1z"/>
<path d="M927 574h1v2h1v1h-3v-1h1z"/>
</g>
<g fill="#ff00ff" shape-rendering="crispEdges">
<rect x="71" y="552" width="2" height="2"/>
<rect x="92" y="542" width="2" height="2"/>
<rect x="113" y="541" width="2" height="2"/>
<rect x="133" y="524" width="2" height="2"/>
<rect x="154" y="547" width="2" height="2"/>
<rect x="175" y="537" width="2" height="2"/>
<rect x="196" y="539" width="2" height="2"/>
<rect x="217" y="541" width="2" height="2"/>
<rect x="238" y="538" width="2" height="2"/>
<rect x="259" y="538" width="2" height="2"/>
<rect x="279" y="532" width="2" height="2"/>
<rect x="300" y="524" width="2" height="2"/>
<rect x="321" y="520" width="2" height="2"/>
<rect x="342" y="539" width="2" height="2"/>
<rect x="363" y="539" width="2" height="2"/>
<rect x="384" y="546" width="2" height="2"/>
<rect x="405" y="558" width="2" height="2"/>
<rect x="425" y="568" width="2" height="2"/>
<rect x="446" y="585" width="2" height="2"/>
<rect x="467" y="581" width="2" height="2"/>
<rect x="488" y="586" width="2" height="2"/>
<rect x="509" y="591" width="2" height="2"/>
<rect x="530" y="592" width="2" height="2"/>
<rect x="551" y="592" width="2" height="2"/>
<rect x="572" y="595" width="2" height="2"/>
<rect x="592" y="603" width="2" height="2"/>
<rect x="613" y="601" width="2" height="2"/>
<rect x="634" y="602" width="2" height="2"/>
<rect x="655" y="606" width="2" height="2"/>
<rect x="676" y="605" width="2" height="2"/>
<rect x="697" y="604" width="2" height="2"/>
<rect x="718" y="606" width="2" height="2"/>
<rect x="738" y="604" width="2" height="2"/>
<rect x="759" y="604" width="2" height="2"/>
<rect x="780" y="609" width="2" height="2"/>
<rect x="801" y="607" width="2" height="2"/>
<rect x="822" y="608" width="2" height="2"/>
<rect x="843" y="607" width="2" height="2"/>
<rect x="864" y="608" width="2" height="2"/>
<rect x="884" y="613" width="2" height="2"/>
<rect x="905" y="617" width="2" height="2"/>
<rect x="926" y="613" width="2" height="2"/>
</g>
<g class="dl">
<text x="80.5" y="173.3">5,368</text>
<text x="101.5" y="126.5">5,895</text>
<text x="122.9" y="108.8">6,095</text>
<text x="143.7" y="54.0">6,712</text>
<text x="164.6" y="109.0">6,093</text>
<text x="185.5" y="72.3">6,506</text>
<text x="200.9" y="99.4">6,126</text>
<text x="227.2" y="113.1">6,046</text>
<text x="248.0" y="90.3">6,303</text>
<text x="268.9" y="118.1">5,990</text>
<text x="289.8" y="109.4">6,088</text>
<text x="310.6" y="98.8">6,208</text>
<text x="331.5" y="113.0">6,048</text>
<text x="347.4" y="167.3">5,552</text>
<text x="373.2" y="149.9">5,631</text>
<text x="394.1" y="182.1">5,269</text>
<text x="414.9" y="265.4">4,330</text>
<text x="434.8" y="319.2">3,725</text>
<text x="446.7" y="345.9">3,345</text>
<text x="470.6" y="367.4">3,302</text>
<text x="498.4" y="354.4">3,326</text>
<text x="509.6" y="387.3">3,077</text>
<text x="540.1" y="382.6">3,009</text>
<text x="560.9" y="391.2">2,912</text>
<text x="581.8" y="412.3">2,674</text>
<text x="593.8" y="429.1">2,588</text>
<text x="623.5" y="415.7">2,635</text>
<text x="644.4" y="421.3">2,572</text>
<text x="655.9" y="454.7">2,318</text>
<text x="686.1" y="441.7">2,342</text>
<text x="707.0" y="423.4">2,549</text>
<text x="727.8" y="434.9">2,419</text>
<text x="748.7" y="423.3">2,550</text>
<text x="769.5" y="428.7">2,489</text>
<text x="790.4" y="440.7">2,354</text>
<text x="799.4" y="459.8">2,245</text>
<text x="832.1" y="445.4">2,301</text>
<text x="853.0" y="435.3">2,414</text>
<text x="873.8" y="439.9">2,363</text>
<text x="894.7" y="465.2">2,078</text>
<text x="915.6" y="485.9">1,844</text>
<text x="936.4" y="472.8">1,992</text>
<text x="81.2" y="485.7">1,846</text>
<text x="102.0" y="455.6">2,186</text>
<text x="122.9" y="445.3">2,302</text>
<text x="143.7" y="414.2">2,652</text>
<text x="164.6" y="431.4">2,458</text>
<text x="185.5" y="448.0">2,271</text>
<text x="206.3" y="436.1">2,405</text>
<text x="227.9" y="449.6">2,251</text>
<text x="248.0" y="429.3">2,482</text>
<text x="259.4" y="444.9">2,405</text>
<text x="280.4" y="423.2">2,470</text>
<text x="298.9" y="436.8">2,492</text>
<text x="325.9" y="427.7">2,430</text>
<text x="352.3" y="443.4">2,323</text>
<text x="365.3" y="427.2">2,402</text>
<text x="395.0" y="433.6">2,440</text>
<text x="415.8" y="470.5">2,015</text>
<text x="435.8" y="509.2">1,582</text>
<text x="445.9" y="527.4">1,451</text>
<text x="477.5" y="519.6">1,464</text>
<text x="498.4" y="509.1">1,583</text>
<text x="506.9" y="531.7">1,404</text>
<text x="541.1" y="527.6">1,374</text>
<text x="554.7" y="541.5">1,173</text>
<text x="572.3" y="556.2">1,113</text>
<text x="594.6" y="546.5">1,105</text>
<text x="620.6" y="550.4">1,083</text>
<text x="634.8" y="571.3">960</text>
<text x="657.7" y="561.6">927</text>
<text x="681.4" y="568.5">983</text>
<text x="698.7" y="545.9">1,106</text>
<text x="718.4" y="565.1">1,017</text>
<text x="739.4" y="549.8">1,075</text>
<text x="757.7" y="564.0">1,047</text>
<text x="784.5" y="554.4">993</text>
<text x="803.6" y="571.2">953</text>
<text x="824.6" y="557.4">942</text>
<text x="843.3" y="565.1">1,021</text>
<text x="868.1" y="554.5">1,001</text>
<text x="889.5" y="569.7">848</text>
<text x="907.7" y="591.2">725</text>
<text x="930.8" y="573.5">794</text>
<text x="81.2" y="557.9">1,032</text>
<text x="91.6" y="540.8">1,147</text>
<text x="114.8" y="551.7">1,160</text>
<text x="135.8" y="522.4">1,351</text>
<text x="164.6" y="552.2">1,097</text>
<text x="176.6" y="534.7">1,211</text>
<text x="196.3" y="552.6">1,189</text>
<text x="219.8" y="540.8">1,161</text>
<text x="237.7" y="552.3">1,195</text>
<text x="261.2" y="550.1">1,191</text>
<text x="283.1" y="542.4">1,266</text>
<text x="303.2" y="533.8">1,348</text>
<text x="325.2" y="520.4">1,400</text>
<text x="343.1" y="552.7">1,184</text>
<text x="367.2" y="538.5">1,184</text>
<text x="388.5" y="547.5">1,108</text>
<text x="412.1" y="559.3">975</text>
<text x="430.7" y="568.3">856</text>
<text x="448.7" y="598.7">669</text>
<text x="471.9" y="580.8">709</text>
<text x="490.7" y="601.6">650</text>
<text x="510.5" y="589.5">594</text>
<text x="532.8" y="605.6">589</text>
<text x="553.3" y="593.8">581</text>
<text x="576.5" y="594.3">556</text>
<text x="596.2" y="616.3">459</text>
<text x="614.6" y="599.0">482</text>
<text x="636.0" y="614.6">475</text>
<text x="660.3" y="604.7">428</text>
<text x="678.6" y="617.2">441</text>
<text x="702.0" y="602.7">452</text>
<text x="718.4" y="618.9">431</text>
<text x="742.0" y="602.5">447</text>
<text x="757.3" y="618.9">448</text>
<text x="783.3" y="605.2">392</text>
<text x="803.6" y="621.6">414</text>
<text x="825.2" y="607.1">409</text>
<text x="844.7" y="618.3">417</text>
<text x="865.8" y="605.1">405</text>
<text x="885.8" y="612.6">351</text>
<text x="907.7" y="628.3">305</text>
<text x="929.6" y="611.3">344</text>
</g>
<text class="ttl" x="424" y="213.6">全産業</text>
<text class="ttl" x="165.6" y="393">建設業</text>
</svg></body></html>
